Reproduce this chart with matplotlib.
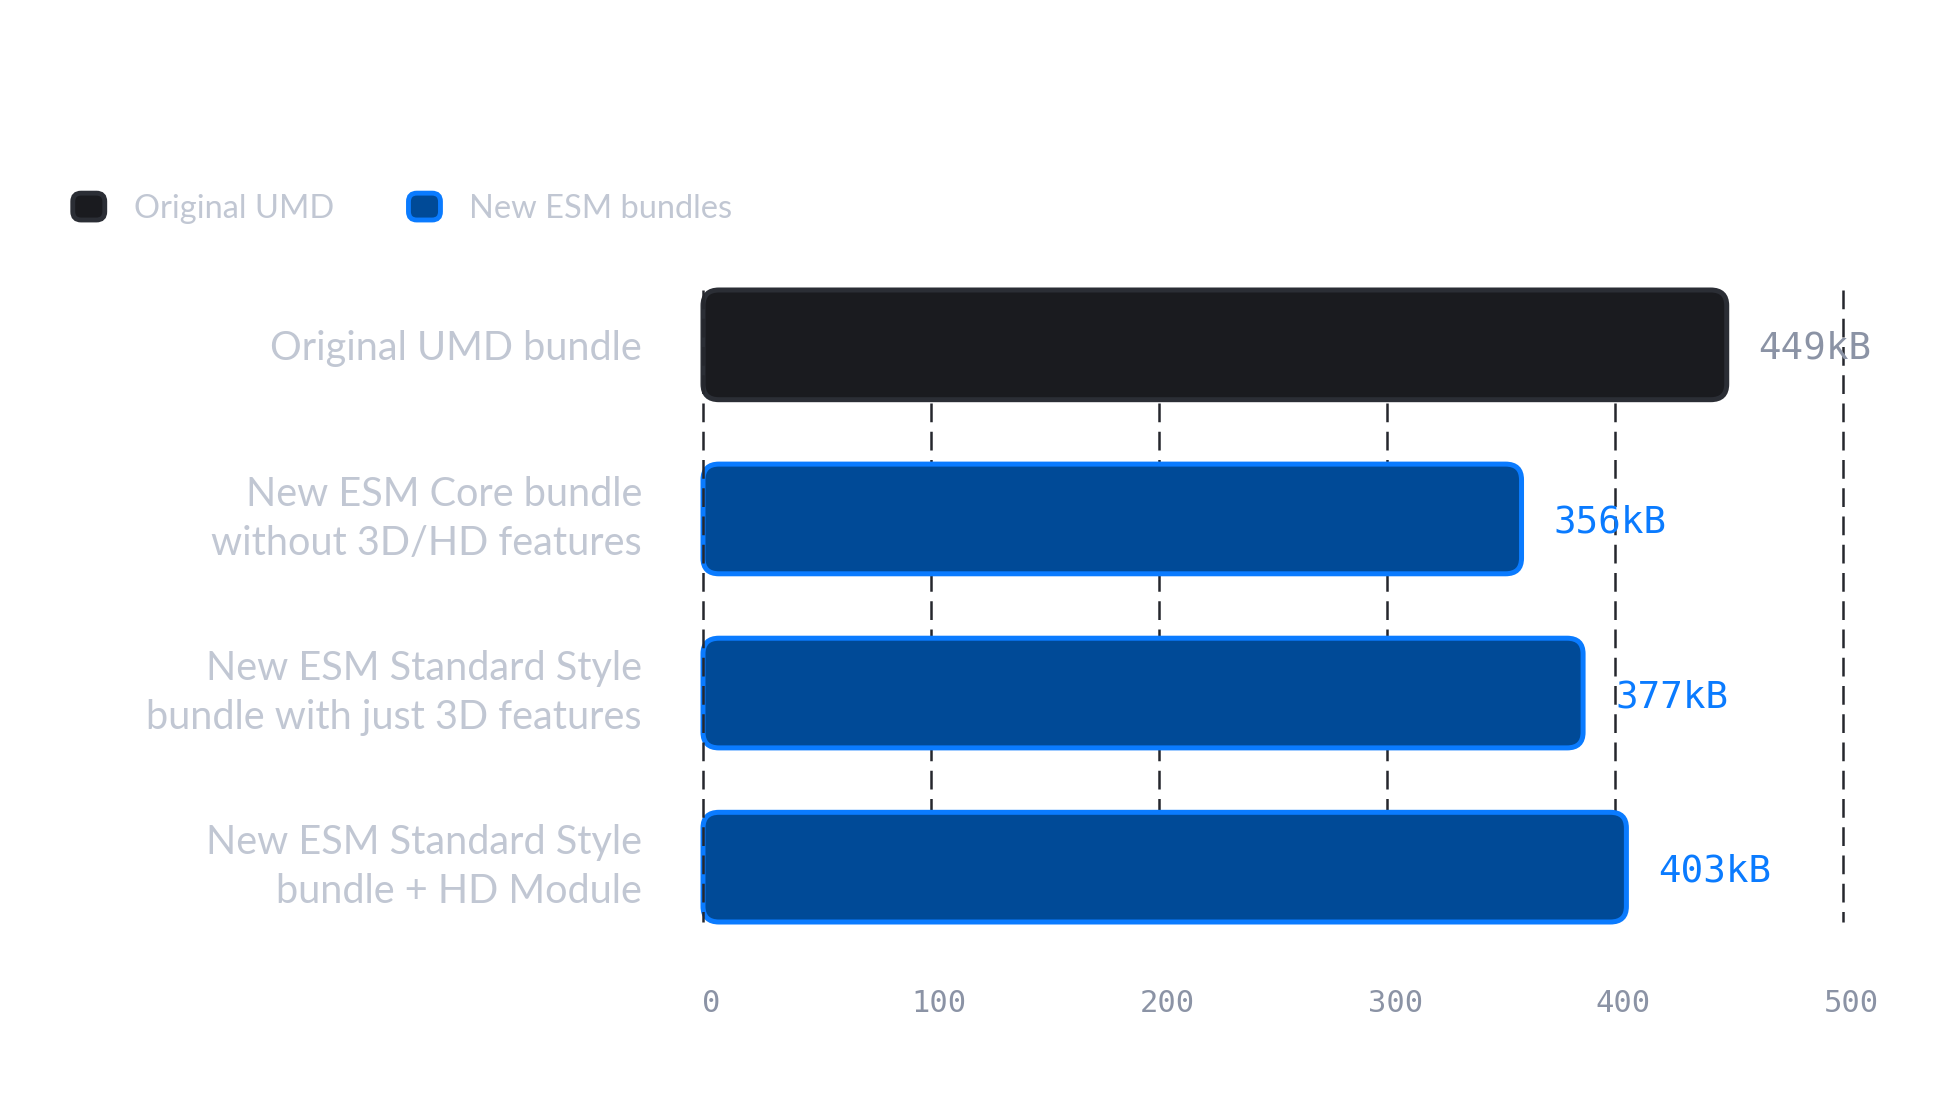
import matplotlib
matplotlib.use('Agg')
import matplotlib.pyplot as plt
import matplotlib.transforms as mtransforms
from matplotlib.patches import FancyBboxPatch, Patch
from matplotlib.legend_handler import HandlerPatch

# data
categories = ['Original UMD bundle',
              'New ESM Core bundle\nwithout 3D/HD features',
              'New ESM Standard Style\nbundle with just 3D features',
              'New ESM Standard Style\nbundle + HD Module']
sizes = [449, 359, 386, 405]
size_labels = ['449kB', '356kB', '377kB', '403kB']
groups = ['umd', 'esm', 'esm', 'esm']
xticks = [0, 100, 200, 300, 400, 500]

fill = {'umd': '#1a1b1f', 'esm': '#004a97'}
edge = {'umd': '#2b2e35', 'esm': '#0a7bff'}
valcol = {'umd': '#8b93a5', 'esm': '#0a7bff'}
labfont = ['Lato', 'DejaVu Sans']
mono = 'DejaVu Sans Mono'

fig = plt.figure(figsize=(19.53, 11.10), dpi=100)
ax = fig.add_axes([703 / 1953, 188 / 1110, 1140 / 1953, 632 / 1110])
half = 0.315
ax.set_xlim(0, 500)
ax.set_ylim(len(categories) - 1 + half, -half)

# dashed grid, behind the bars except the zero line
for t in xticks:
    ax.vlines(t, -half, len(categories) - 1 + half, colors='#25272d',
              linewidth=1.8, linestyles=(0, (7.5, 3.8)),
              zorder=5 if t == 0 else 1, clip_on=False)

rx = 7
aspect = 0.0128
for i, v in enumerate(sizes):
    g = groups[i]
    p = FancyBboxPatch((0, i - half), v, 2 * half,
                       boxstyle='round,pad=0,rounding_size=%g' % rx,
                       mutation_aspect=aspect,
                       facecolor=fill[g], edgecolor=edge[g], linewidth=3.6,
                       zorder=3, clip_on=False)
    ax.add_patch(p)
    ax.text(v + 14, i, size_labels[i], ha='left', va='center_baseline',
            fontsize=27, family=mono, color=valcol[g], zorder=6)

for s in ax.spines.values():
    s.set_visible(False)

ax.set_xticks(xticks)
ax.set_xticklabels([str(t) for t in xticks], family=mono, fontsize=22,
                   color='#8b93a5')
ax.set_yticks(range(len(categories)))
ax.set_yticklabels(categories, family=labfont, fontweight='normal',
                   fontsize=28.5, color='#c1c7d3', linespacing=1.42)
for lab in ax.get_yticklabels():
    if '\n' in lab.get_text():
        lab.set_verticalalignment('center')
ax.tick_params(axis='x', length=0, pad=48)
ax.tick_params(axis='y', length=0, pad=44)
shift = mtransforms.ScaledTranslation(6 / 72, 0, fig.dpi_scale_trans)
for lab in ax.get_xticklabels():
    lab.set_transform(lab.get_transform() + shift)


class RoundHandler(HandlerPatch):
    def create_artists(self, legend, orig_handle, xdescent, ydescent,
                       width, height, fontsize, trans):
        p = FancyBboxPatch((-xdescent + 2, -ydescent + 2), width - 4, height - 4,
                           boxstyle='round,pad=0,rounding_size=6',
                           facecolor=orig_handle.get_facecolor(),
                           edgecolor=orig_handle.get_edgecolor(),
                           linewidth=3.5, transform=trans)
        return [p]


handles = [Patch(facecolor=fill['umd'], edgecolor=edge['umd']),
           Patch(facecolor=fill['esm'], edgecolor=edge['esm'])]
leg = fig.legend(handles, ['Original UMD', 'New ESM bundles'],
                 loc='center left', bbox_to_anchor=(70 / 1953, 1 - 207 / 1110),
                 ncol=2, frameon=False, borderpad=0, borderaxespad=0,
                 handlelength=1.15, handleheight=1.15, handletextpad=0.8,
                 columnspacing=2.2,
                 prop={'family': labfont, 'weight': 'normal', 'size': 23.5},
                 handler_map={Patch: RoundHandler()})
for t in leg.get_texts():
    t.set_color('#c1c7d3')

fig.savefig('out.png', dpi=100, facecolor='white')
